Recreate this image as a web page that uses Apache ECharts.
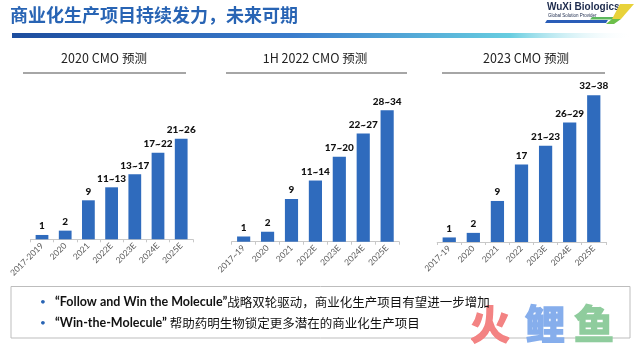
<!DOCTYPE html>
<html><head><meta charset="utf-8">
<script src="https://cdn.jsdelivr.net/npm/echarts@6/dist/echarts.min.js"></script>
<style>html,body{margin:0;padding:0;background:#fff}#c{width:640px;height:347px}</style>
</head><body><div id="c"></div>
<script>
const titles = ['2020 CMO 预测', '1H 2022 CMO 预测', '2023 CMO 预测'];
const cats1 = ['2017-2019', '2020', '2021', '2022E', '2023E', '2024E', '2025E'];
const cats2 = ['2017~19', '2020', '2021', '2022E', '2023E', '2024E', '2025E'];
const cats3 = ['2017-19', '2020', '2021', '2022', '2023E', '2024E', '2025E'];
const vals1 = [1, 2, 9, 12, 15, 20, 23.2];
const vals2 = [1.1, 2.1, 9, 12.9, 17.9, 22.8, 27.7];
const vals3 = [1, 2, 9, 17, 21.1, 26.2, 32.2];
const labs1 = ['1', '2', '9', '11~13', '13~17', '17~22', '21~26'];
const labs2 = ['1', '2', '9', '11~14', '17~20', '22~27', '28~34'];
const labs3 = ['1', '2', '9', '17', '21~23', '26~29', '32~38'];

const LAT = 'Lato, "Noto Sans CJK SC", sans-serif';
const CJK = '"Noto Sans CJK SC", Lato, sans-serif';
const BAR = '#2f6bbd';
const grids = [
  {left: 30.4, width: 162.4, top: 66, bottom: 107.7},
  {left: 231.7, width: 167.4, top: 52, bottom: 105.3},
  {left: 437.2, width: 168.6, top: 59.6, bottom: 105}
];
const cats = [cats1, cats2, cats3];
const vals = [vals1, vals2, vals3];
const labs = [labs1, labs2, labs3];

function wm(ch, x, color) {
  return {type: 'text', x: x, y: 324, style: {text: ch, font: 'bold 40px ' + CJK, fill: color,
    stroke: color, lineWidth: 1.6, lineJoin: 'round', align: 'center', verticalAlign: 'middle'}};
}

const option = {
  backgroundColor: '#fff',
  animation: false,
  grid: grids,
  xAxis: cats.map((c, i) => ({
    type: 'category', gridIndex: i, data: c,
    axisLine: {lineStyle: {color: '#c8c8c8', width: 1}},
    axisTick: {show: true, length: 3, lineStyle: {color: '#c8c8c8'}},
    axisLabel: {rotate: 45, fontSize: 8.5, color: '#595959', margin: 5, interval: 0, fontFamily: LAT}
  })),
  yAxis: cats.map((c, i) => ({type: 'value', gridIndex: i, min: 0, max: 40, show: false, splitLine: {show: false}})),
  series: vals.map((v, i) => ({
    type: 'bar', xAxisIndex: i, yAxisIndex: i, data: v, barWidth: '55%',
    itemStyle: {color: BAR},
    label: {show: true, position: 'top', distance: 4, fontSize: 10, fontWeight: 900, color: '#111',
      fontFamily: LAT, formatter: p => labs[i][p.dataIndex]}
  })),
  graphic: [
    {type: 'text', left: 10, top: 6, style: {text: '商业化生产项目持续发力，未来可期', font: 'bold 18px "Noto Sans CJK SC"', fill: '#2864b4'}},
    {type: 'rect', shape: {x: 12, y: 33, width: 622, height: 5},
      style: {fill: new echarts.graphic.LinearGradient(0, 0, 1, 0, [
        {offset: 0, color: '#1d4d9e'}, {offset: 0.45, color: '#3a7ccc'},
        {offset: 0.8, color: '#67cde0'}, {offset: 1, color: 'rgba(255,255,255,0)'}])}},
    // logo
    {type: 'text', left: 547, top: 2, style: {text: 'WuXi Biologics', font: 'bold 10px "Liberation Sans"', fill: '#1c2a4c'}},
    {type: 'text', left: 548, top: 13, style: {text: 'Global Solution Provider', font: '4.5px "Liberation Sans"', fill: '#1c2a4c'}},
    {type: 'polygon', shape: {points: [[547, 20], [608, 20], [606, 23], [545, 23]]}, style: {fill: '#2a5db8'}},
    {type: 'polygon', shape: {points: [[592, 17], [618, 17], [616, 19.5], [590, 19.5]]}, style: {fill: '#5cb85c'}},
    {type: 'polygon', shape: {points: [[620, 4], [634, 4], [621, 19], [612, 19]]}, style: {fill: '#e8d23a'}},
    {type: 'polygon', shape: {points: [[612, 19], [621, 19], [614, 24], [606, 24]]}, style: {fill: '#6cbf4a'}},
    // chart titles
    {type: 'text', x: 104, y: 58, style: {text: titles[0], font: '12.5px ' + CJK, fill: '#222', align: 'center', verticalAlign: 'middle'}},
    {type: 'text', x: 315, y: 58, style: {text: titles[1], font: '12.5px ' + CJK, fill: '#222', align: 'center', verticalAlign: 'middle'}},
    {type: 'text', x: 526, y: 58, style: {text: titles[2], font: '12.5px ' + CJK, fill: '#222', align: 'center', verticalAlign: 'middle'}},
    {type: 'rect', shape: {x: 23, y: 72, width: 163, height: 2}, style: {fill: '#a6a6a6'}},
    {type: 'rect', shape: {x: 226, y: 72, width: 181, height: 2}, style: {fill: '#a6a6a6'}},
    {type: 'rect', shape: {x: 442, y: 72, width: 163, height: 2}, style: {fill: '#a6a6a6'}},
    // bottom box
    {type: 'rect', shape: {x: 11, y: 286.5, width: 619, height: 51.5}, style: {fill: '#fff', stroke: '#bdbdbd', lineWidth: 1}},
    // watermark (under the text)
    wm('火', 490, '#f38383'),
    wm('鲤', 545, '#86aeec'),
    wm('鱼', 594, '#8fcc9d'),
    {type: 'text', x: 43, y: 302, style: {text: '•', font: '10px ' + LAT, fill: '#2864b4', align: 'center', verticalAlign: 'middle'}},
    {type: 'text', x: 43, y: 323, style: {text: '•', font: '10px ' + LAT, fill: '#2864b4', align: 'center', verticalAlign: 'middle'}},
    {type: 'text', x: 55, y: 302, style: {
      text: '{b|“Follow and Win the Molecule”}{n|战略双轮驱动，商业化生产项目有望进一步增加}',
      verticalAlign: 'middle',
      rich: {b: {font: 'bold 12.5px ' + LAT, fill: '#111'}, n: {font: '12.5px ' + CJK, fill: '#111'}}}},
    {type: 'text', x: 55, y: 323, style: {
      text: '{b|“Win-the-Molecule”}{n| 帮助药明生物锁定更多潜在的商业化生产项目}',
      verticalAlign: 'middle',
      rich: {b: {font: 'bold 12.5px ' + LAT, fill: '#111'}, n: {font: '12.5px ' + CJK, fill: '#111'}}}}
  ]
};
const chart = echarts.init(document.getElementById('c'), null, {renderer: 'canvas'});
chart.setOption(option);
</script></body></html>
